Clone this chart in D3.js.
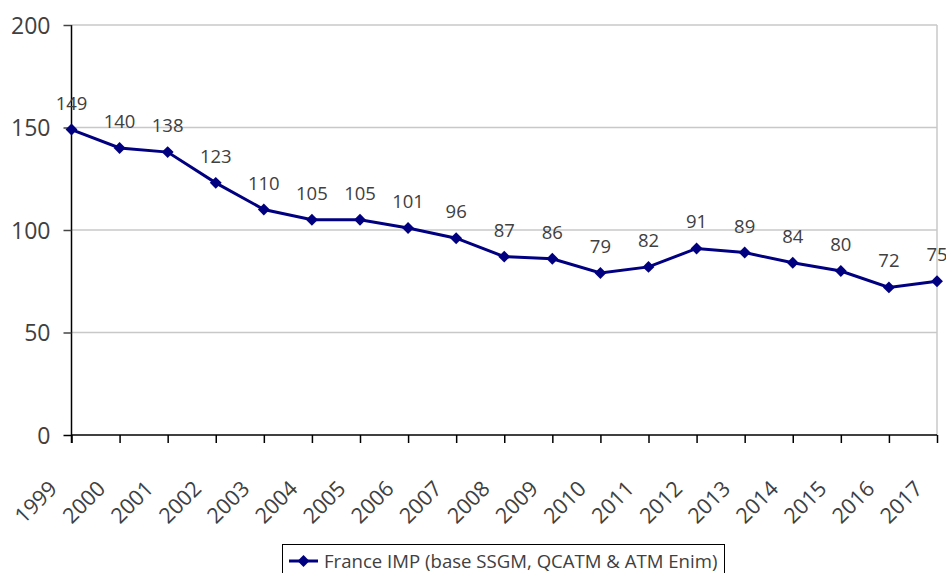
<!DOCTYPE html>
<html>
<head>
<meta charset="utf-8">
<script src="https://cdn.jsdelivr.net/npm/d3@7"></script>
<style>
  body { margin: 0; background: #fff; }
  text { font-family: "Open Sans", sans-serif; fill: #404040; }
</style>
</head>
<body>
<svg id="chart" width="946" height="573"></svg>
<script>
// data
var years = ["1999","2000","2001","2002","2003","2004","2005","2006","2007","2008",
             "2009","2010","2011","2012","2013","2014","2015","2016","2017"];
var values = [149,140,138,123,110,105,105,101,96,87,86,79,82,91,89,84,80,72,75];
var yTicks = [0,50,100,150,200];
var seriesName = "France IMP (base SSGM, QCATM & ATM Enim)";

var margin = {top: 25, left: 71.5, right: 9, bottom: 138},
    width = 946 - margin.left - margin.right,
    height = 573 - margin.top - margin.bottom;

var svg = d3.select("#chart");
var g = svg.append("g").attr("transform", "translate(" + margin.left + "," + margin.top + ")");

var x = d3.scalePoint().domain(years).range([0, width]);
var y = d3.scaleLinear().domain([0, 200]).range([height, 0]);

// gridlines
g.selectAll(".grid").data(yTicks.filter(function(d){ return d > 0; }))
  .enter().append("line")
  .attr("x1", 0).attr("x2", width)
  .attr("y1", function(d){ return y(d); }).attr("y2", function(d){ return y(d); })
  .style("stroke", "#c8c8c8").style("stroke-width", 1.5);

// right border
g.append("line").attr("x1", width).attr("x2", width).attr("y1", 0).attr("y2", height)
  .style("stroke", "#c8c8c8").style("stroke-width", 1.5);

// y axis
var yAxis = g.append("g").call(d3.axisLeft(y).tickValues(yTicks).tickSize(8).tickPadding(13));
yAxis.select(".domain").attr("d", "M0," + (height + 8) + "V0").style("stroke", "#000").style("stroke-width", 1.5);
yAxis.selectAll(".tick line").style("stroke", "#000").style("stroke-width", 1.5);
yAxis.selectAll(".tick line").filter(function(d){ return d > 0; }).style("stroke", "#444");
yAxis.selectAll("text").style("font-size", "23px").attr("dy", "0.35em").style("fill", "#404040");

// x axis
var xAxis = g.append("g").attr("transform", "translate(0," + height + ")")
  .call(d3.axisBottom(x).tickSize(8).tickFormat(""));
xAxis.select(".domain").attr("d", "M0,0H" + width).style("stroke", "#000").style("stroke-width", 1.5);
xAxis.selectAll(".tick line").style("stroke", "#000").style("stroke-width", 1.5);

g.selectAll(".xlab").data(years).enter().append("text")
  .attr("transform", function(d){ return "translate(" + (x(d) - 13) + "," + (height + 55) + ") rotate(-45)"; })
  .attr("text-anchor", "end")
  .style("font-size", "21.5px")
  .text(function(d){ return d; });

// line
var line = d3.line()
  .x(function(d, i){ return x(years[i]); })
  .y(function(d){ return y(d); });

g.append("path").datum(values)
  .attr("d", line)
  .style("fill", "none").style("stroke", "#000080").style("stroke-width", 3);

var diamond = d3.symbol().type(d3.symbolDiamond2).size(90);
g.selectAll(".pt").data(values).enter().append("path")
  .attr("d", diamond)
  .attr("transform", function(d, i){ return "translate(" + x(years[i]) + "," + y(d) + ")"; })
  .style("fill", "#000080");

// data labels
g.selectAll(".lab").data(values).enter().append("text")
  .attr("x", function(d, i){ return x(years[i]); })
  .attr("y", function(d){ return y(d) - 20; })
  .attr("text-anchor", "middle")
  .style("font-size", "18.5px")
  .text(function(d){ return d; });

// legend
var lg = svg.append("g");
lg.append("rect").attr("x", 282.5).attr("y", 544.5).attr("width", 442).attr("height", 40)
  .style("fill", "#fff").style("stroke", "#000").style("stroke-width", 1);
lg.append("line").attr("x1", 289).attr("x2", 318).attr("y1", 561).attr("y2", 561)
  .style("stroke", "#000080").style("stroke-width", 3);
lg.append("path").attr("d", diamond).attr("transform", "translate(303.5,561)").style("fill", "#000080");
lg.append("text").attr("x", 324).attr("y", 567.5).style("font-size", "18.6px").text(seriesName);
</script>
</body>
</html>
